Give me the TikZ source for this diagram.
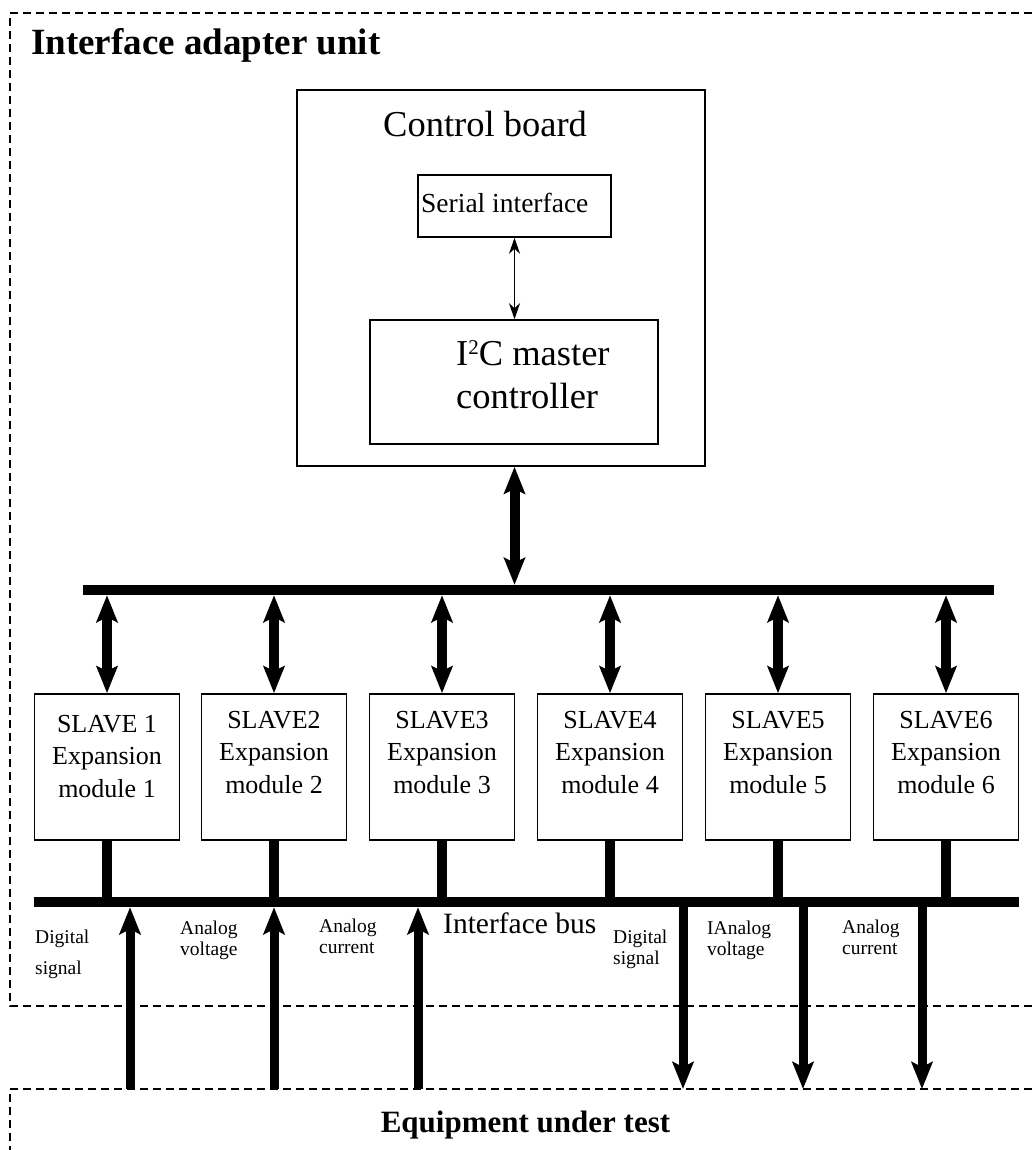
\documentclass[tikz,border=0pt]{standalone}
\usepackage{fontspec}
\setmainfont{Liberation Serif}
\usetikzlibrary{arrows.meta}
\tikzset{
  box/.style={draw, line width=1.6pt, inner sep=0pt},
  bus/.style={fill=black, inner sep=0pt, minimum height=10pt},
  bigtip/.tip={Stealth[length=27pt,width=21pt,inset=5pt]},
  bigarrow/.style={line width=9pt, -bigtip},
  bigdbl/.style={line width=10pt, bigtip-bigtip},
  thintip/.tip={Stealth[length=16pt,width=11pt,inset=5pt]},
  thindbl/.style={line width=1.8pt, thintip-thintip},
  dashline/.style={line width=1.3pt, dash pattern=on 8pt off 5pt},
  slavetxt/.style={font=\fontsize{26}{32.5}\selectfont, align=center, inner sep=0pt},
  smalltxt/.style={font=\fontsize{19.5}{20.5}\selectfont, align=left, inner sep=0pt},
}
\begin{document}
\begin{tikzpicture}[x=1pt,y=-1pt]
\useasboundingbox (0,0) rectangle (1032,1150);
\clip (0,0) rectangle (1032,1150);
% outer dashed frames
\draw[dashline] (1045,13) -- (10,13) -- (10,1006) -- (1045,1006);
\draw[dashline] (1045,1089) -- (10,1089) -- (10,1165);
\node[anchor=base west, inner sep=0pt, font=\fontsize{37}{44}\selectfont\bfseries] (title) at (31,55) {Interface adapter unit};
% control board
\node[box, minimum width=408pt, minimum height=376pt] (cb) at (501,278) {};
\node[anchor=base west, inner sep=0pt, font=\fontsize{36.5}{43}\selectfont] (cbt) at (383,137) {Control board};
\node[box, minimum width=193pt, minimum height=62pt] (ser) at (514.5,206) {};
\node[anchor=base west, inner sep=0pt, font=\fontsize{27.5}{33}\selectfont] (sert) at (421,213) {Serial interface};
\node[box, minimum width=288pt, minimum height=124pt] (i2c) at (514,382) {};
\node[anchor=base west, inner sep=0pt, align=left, font=\fontsize{36.5}{43}\selectfont] (i2ct) at (456,408) {I\raisebox{11pt}{\fontsize{21}{21}\selectfont 2}C master\\controller};
\draw[thindbl] (ser.south) -- (ser.south |- i2c.north);
% buses
\node[bus, minimum width=911pt] (tbus) at (538.5,590) {};
\node[bus, minimum width=985pt] (lbus) at (526.5,902) {};
\draw[bigdbl] (cb.south -| ser.south) -- (tbus.north -| ser.south);
% slaves
\foreach \i/\x in {1/107,2/274,3/442,4/610,5/778,6/946}{
  \node[box, minimum width=145pt, minimum height=146pt] (s\i) at (\x,767) {};
  \draw[bigdbl] (s\i.north |- tbus.south) -- (s\i.north);
  \draw[line width=10pt] (s\i.south) -- (s\i.south |- lbus.north);
}
\node[slavetxt, anchor=base] (t1) at (107,797) {SLAVE 1\\Expansion\\module 1};
\foreach \i/\x in {2/274,3/442,4/610,5/778,6/946}{
  \node[slavetxt, anchor=base] (t\i) at (\x,793) {SLAVE\i\\Expansion\\module \i};
}
% bus labels
\node[anchor=base west, inner sep=0pt, font=\fontsize{29.5}{34}\selectfont] (ibus) at (443,933) {Interface bus};
\node[smalltxt, font=\fontsize{19.5}{31}\selectfont, anchor=base west] (l1) at (35,974) {Digital\\signal};
\node[smalltxt, anchor=base west] (l2) at (180,955) {Analog\\voltage};
\node[smalltxt, anchor=base west] (l3) at (319,953) {Analog\\current};
\node[smalltxt, anchor=base west] (l4) at (613,964) {Digital\\signal};
\node[smalltxt, anchor=base west] (l5) at (707,955) {IAnalog\\voltage};
\node[smalltxt, anchor=base west] (l6) at (842,954) {Analog\\current};
% signal arrows
\foreach \n/\x in {1/130,2/274,3/418}{
  \coordinate (u\n) at (\x,1089);
  \draw[bigarrow] (u\n) -- (u\n |- lbus.south);
}
\foreach \n/\x in {1/683,2/803,3/922}{
  \coordinate (d\n) at (\x,1089);
  \draw[bigarrow] (d\n |- lbus.south) -- (d\n);
}
\node[anchor=base, inner sep=0pt, font=\fontsize{31}{37}\selectfont\bfseries] (eut) at (525.5,1132) {Equipment under test};
\end{tikzpicture}
\end{document}
